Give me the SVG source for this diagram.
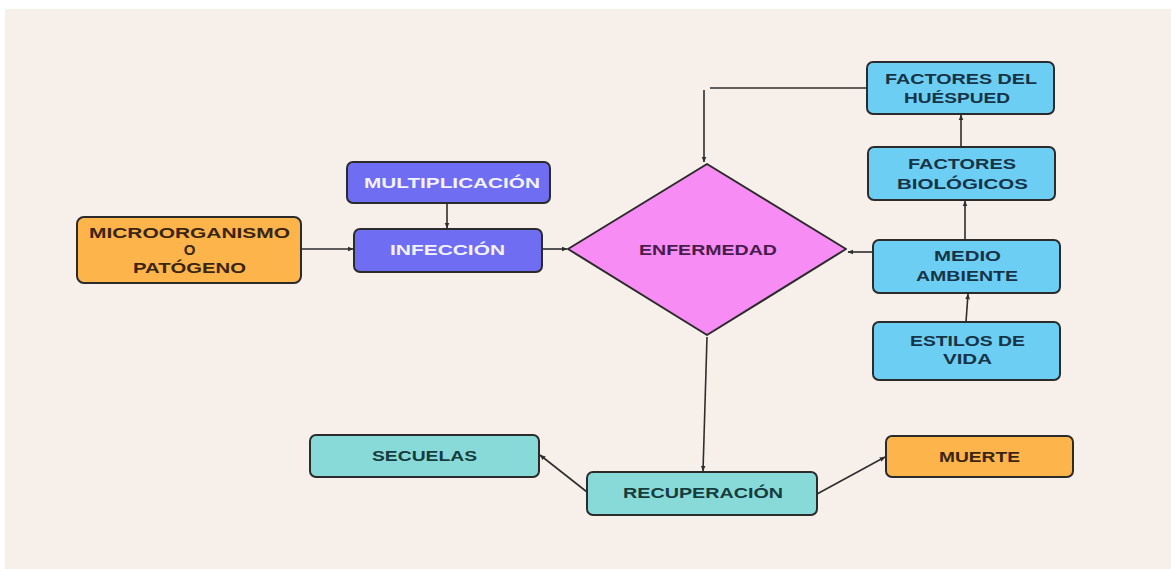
<svg xmlns="http://www.w3.org/2000/svg" width="1171" height="569" viewBox="0 0 1171 569">
<style>
.box{stroke:#2b2b2b;stroke-width:2}
.t{font-family:"Liberation Sans",Arial,sans-serif;font-weight:700;font-size:15px;text-anchor:middle}
.or{fill:#FDB44B}
.pu{fill:#6F6DF2}
.bl{fill:#6DCEF4}
.te{fill:#88DAD8}
.tor{fill:#3a2512}
.tpu{fill:#F2F2FF}
.tbl{fill:#173447}
.tte{fill:#173C3E}
.conn line,.conn polyline{stroke:#2e2e2e;stroke-width:1.6;fill:none}
</style>
<defs>
<marker id="ah" viewBox="0 0 10 10" refX="9" refY="5" markerWidth="6" markerHeight="6" orient="auto" markerUnits="userSpaceOnUse">
<path d="M0,1 L10,5 L0,9 z" fill="#2e2e2e"/>
</marker>
</defs>
<rect x="0" y="0" width="1171" height="569" fill="#ffffff"/>
<rect x="5" y="9" width="1166" height="560" fill="#F7F0EA"/>

<g class="conn">
<line x1="302" y1="249" x2="353" y2="249" marker-end="url(#ah)"/>
<line x1="447" y1="203" x2="447" y2="228" marker-end="url(#ah)"/>
<line x1="542" y1="249" x2="567" y2="249" marker-end="url(#ah)"/>
<line x1="867" y1="88" x2="710" y2="88"/>
<line x1="704" y1="90" x2="704" y2="162" marker-end="url(#ah)"/>
<line x1="873" y1="252" x2="848" y2="252" marker-end="url(#ah)"/>
<line x1="961" y1="147" x2="961" y2="115" marker-end="url(#ah)"/>
<line x1="965" y1="240" x2="965" y2="201" marker-end="url(#ah)"/>
<line x1="966" y1="322" x2="968" y2="294" marker-end="url(#ah)"/>
<line x1="707" y1="337" x2="703" y2="471" marker-end="url(#ah)"/>
<line x1="587" y1="492" x2="540" y2="455" marker-end="url(#ah)"/>
<line x1="817" y1="494" x2="885" y2="457" marker-end="url(#ah)"/>
</g>

<g id="microorganismo">
<rect class="box or" x="77" y="217" width="224" height="66" rx="7"/>
<text class="t tor" x="189.5" y="237.5" textLength="201" lengthAdjust="spacingAndGlyphs">MICROORGANISMO</text>
<text class="t tor" x="189.5" y="255">O</text>
<text class="t tor" x="189.5" y="272.5" textLength="113" lengthAdjust="spacingAndGlyphs">PATÓGENO</text>
</g>

<g id="multiplicacion">
<rect class="box pu" x="347" y="162" width="203" height="41" rx="6"/>
<text class="t tpu" x="452" y="188" textLength="176" lengthAdjust="spacingAndGlyphs">MULTIPLICACIÓN</text>
</g>

<g id="infeccion">
<rect class="box pu" x="354" y="229" width="188" height="43" rx="6"/>
<text class="t tpu" x="447.5" y="255" textLength="115" lengthAdjust="spacingAndGlyphs">INFECCIÓN</text>
</g>

<g id="enfermedad">
<path class="box" d="M707,164 L846,249 L707,335 L568,249 Z" fill="#F78DF4" stroke-linejoin="round"/>
<text class="t" x="708" y="254.5" fill="#4A1C4C" textLength="138" lengthAdjust="spacingAndGlyphs">ENFERMEDAD</text>
</g>

<g id="huesped">
<rect class="box bl" x="867" y="62" width="187" height="52" rx="6"/>
<text class="t tbl" x="961" y="83.5" textLength="152" lengthAdjust="spacingAndGlyphs">FACTORES DEL</text>
<text class="t tbl" x="957" y="102.5" textLength="106" lengthAdjust="spacingAndGlyphs">HUÉSPUED</text>
</g>

<g id="biologicos">
<rect class="box bl" x="868" y="147" width="187" height="53" rx="6"/>
<text class="t tbl" x="962" y="168.5" textLength="108" lengthAdjust="spacingAndGlyphs">FACTORES</text>
<text class="t tbl" x="962.5" y="188.5" textLength="131" lengthAdjust="spacingAndGlyphs">BIOLÓGICOS</text>
</g>

<g id="medio">
<rect class="box bl" x="873" y="240" width="187" height="53" rx="6"/>
<text class="t tbl" x="967.5" y="260.5" textLength="67" lengthAdjust="spacingAndGlyphs">MEDIO</text>
<text class="t tbl" x="967" y="280.5" textLength="102" lengthAdjust="spacingAndGlyphs">AMBIENTE</text>
</g>

<g id="estilos">
<rect class="box bl" x="873" y="322" width="187" height="58" rx="6"/>
<text class="t tbl" x="967.5" y="345.5" textLength="115" lengthAdjust="spacingAndGlyphs">ESTILOS DE</text>
<text class="t tbl" x="967.5" y="363.5" textLength="49" lengthAdjust="spacingAndGlyphs">VIDA</text>
</g>

<g id="recuperacion">
<rect class="box te" x="587" y="472" width="230" height="43" rx="6"/>
<text class="t tte" x="703" y="497.5" textLength="160" lengthAdjust="spacingAndGlyphs">RECUPERACIÓN</text>
</g>

<g id="secuelas">
<rect class="box te" x="310" y="435" width="229" height="42" rx="6"/>
<text class="t tte" x="424.5" y="460.5" textLength="105" lengthAdjust="spacingAndGlyphs">SECUELAS</text>
</g>

<g id="muerte">
<rect class="box or" x="886" y="436" width="187" height="41" rx="6"/>
<text class="t tor" x="979.5" y="461.5" textLength="81" lengthAdjust="spacingAndGlyphs">MUERTE</text>
</g>
</svg>
